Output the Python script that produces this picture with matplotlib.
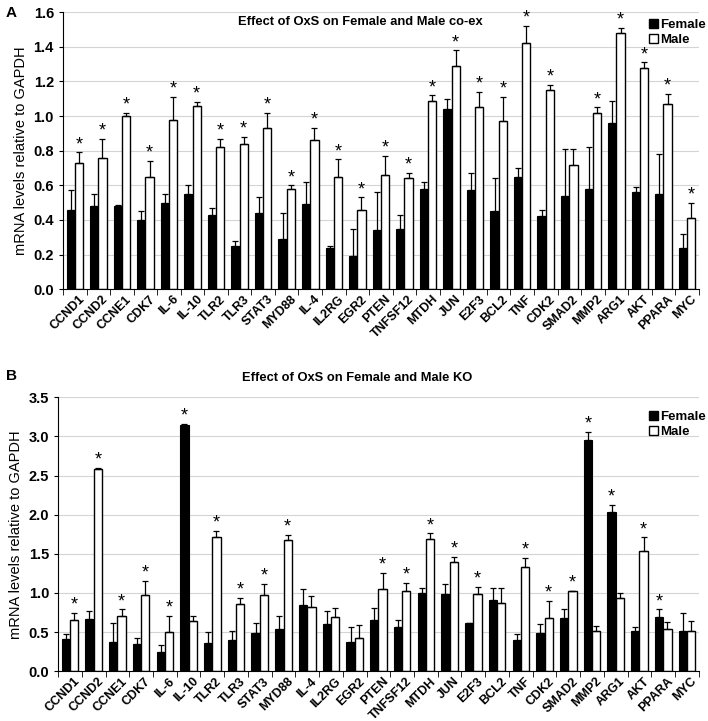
import numpy as np
import matplotlib
matplotlib.use("Agg")
import matplotlib.pyplot as plt
from matplotlib.patches import Patch

plt.rcParams['font.family'] = ['Liberation Sans', 'DejaVu Sans']

genes = ["CCND1", "CCND2", "CCNE1", "CDK7", "IL-6", "IL-10", "TLR2", "TLR3",
         "STAT3", "MYD88", "IL-4", "IL2RG", "EGR2", "PTEN", "TNFSF12", "MTDH",
         "JUN", "E2F3", "BCL2", "TNF", "CDK2", "SMAD2", "MMP2", "ARG1", "AKT",
         "PPARA", "MYC"]

# panel A: co-ex
a_female = [0.46, 0.48, 0.48, 0.40, 0.50, 0.55, 0.43, 0.25, 0.44, 0.29, 0.49, 0.24, 0.19,
            0.34, 0.35, 0.58, 1.04, 0.57, 0.45, 0.65, 0.42, 0.54, 0.58, 0.96, 0.56, 0.55, 0.24]
a_female_err = [0.11, 0.07, 0.005, 0.05, 0.05, 0.05, 0.04, 0.03, 0.09, 0.15, 0.13, 0.01, 0.16,
                0.22, 0.08, 0.04, 0.06, 0.10, 0.19, 0.05, 0.04, 0.27, 0.24, 0.13, 0.03, 0.23, 0.08]
a_male = [0.73, 0.76, 1.00, 0.65, 0.98, 1.06, 0.82, 0.84, 0.93, 0.58, 0.86, 0.65, 0.46,
          0.66, 0.64, 1.09, 1.29, 1.05, 0.97, 1.42, 1.15, 0.72, 1.02, 1.48, 1.28, 1.07, 0.41]
a_male_err = [0.06, 0.11, 0.02, 0.09, 0.13, 0.02, 0.05, 0.04, 0.09, 0.02, 0.07, 0.10, 0.07,
              0.11, 0.03, 0.03, 0.09, 0.09, 0.14, 0.10, 0.03, 0.09, 0.03, 0.03, 0.03, 0.06, 0.09]
a_star_female = []
a_star_male = [g for g in genes if g != "SMAD2"]

# panel B: KO
b_female = [0.41, 0.67, 0.37, 0.35, 0.24, 3.14, 0.36, 0.40, 0.49, 0.54, 0.84, 0.60, 0.37,
            0.65, 0.57, 1.00, 0.99, 0.62, 0.91, 0.40, 0.49, 0.68, 2.96, 2.04, 0.51, 0.69, 0.52]
b_female_err = [0.06, 0.10, 0.25, 0.07, 0.10, 0.02, 0.14, 0.11, 0.13, 0.17, 0.21, 0.17, 0.20,
                0.16, 0.09, 0.06, 0.13, 0.0, 0.15, 0.08, 0.11, 0.12, 0.10, 0.09, 0.05, 0.10, 0.22]
b_male = [0.65, 2.58, 0.70, 0.98, 0.50, 0.64, 1.72, 0.86, 0.98, 1.68, 0.82, 0.69, 0.43,
          1.05, 1.03, 1.69, 1.39, 0.99, 0.87, 1.33, 0.68, 1.02, 0.52, 0.94, 1.53, 0.54, 0.52]
b_male_err = [0.10, 0.02, 0.09, 0.17, 0.21, 0.07, 0.07, 0.08, 0.14, 0.06, 0.14, 0.12, 0.16,
              0.21, 0.10, 0.07, 0.07, 0.09, 0.19, 0.12, 0.22, 0.01, 0.06, 0.06, 0.18, 0.09, 0.12]
b_star_female = ["IL-10", "MMP2", "ARG1", "PPARA"]
b_star_male = ["CCND1", "CCND2", "CCNE1", "CDK7", "IL-6", "TLR2", "TLR3", "STAT3", "MYD88",
               "PTEN", "TNFSF12", "MTDH", "JUN", "E2F3", "TNF", "CDK2", "SMAD2", "AKT"]


def panel(ax, fem, fem_err, mal, mal_err, star_f, star_m, ymax, ystep, title, title_x, title_y, leg_y, star_off):
    x = np.arange(len(genes))
    w = 0.35
    ax.set_axisbelow(True)
    ax.yaxis.grid(True, color='#d4d4d4', lw=0.8)
    ekw = dict(ecolor='black', elinewidth=0.9, capsize=2, capthick=0.9)
    ax.bar(x - w / 2, fem, w, color='black', edgecolor='black', lw=0.8,
           yerr=[np.zeros(len(fem)), fem_err], error_kw=ekw)
    ax.bar(x + w / 2, mal, w, color='white', edgecolor='black', lw=1.0,
           yerr=[np.zeros(len(mal)), mal_err], error_kw=ekw)
    for i, g in enumerate(genes):
        if g in star_f:
            ax.text(x[i] - w / 2, fem[i] + fem_err[i] + star_off, '*', ha='center', va='center', fontsize=13)
        if g in star_m:
            ax.text(x[i] + w / 2, mal[i] + mal_err[i] + star_off, '*', ha='center', va='center', fontsize=13)
    ax.set_xlim(-0.5, len(genes) - 0.5)
    ax.set_ylim(0, ymax)
    yt = np.arange(0, ymax + 1e-6, ystep)
    ax.set_yticks(yt)
    ax.set_yticklabels(['%.1f' % v for v in yt], fontsize=10.5, fontweight='bold')
    ax.set_xticks(x + 0.15)
    ax.set_xticklabels(genes, rotation=45, ha='right', rotation_mode='anchor', fontsize=9,
                       fontweight='bold')
    ax.tick_params(axis='x', which='major', length=0, pad=3)
    ax.set_xticks(np.arange(-0.5, len(genes)), minor=True)
    ax.tick_params(axis='x', which='minor', length=4, direction='out')
    ax.tick_params(axis='y', length=3, direction='out')
    for s in ['top', 'right']:
        ax.spines[s].set_visible(False)
    ax.set_ylabel('mRNA levels relative to GAPDH', fontsize=10.5, labelpad=4)
    ax.text(title_x, title_y, title, transform=ax.transAxes, ha='center', va='center',
            fontsize=9.3, fontweight='bold')
    handles = [Patch(facecolor='black', edgecolor='black', label='Female'),
               Patch(facecolor='white', edgecolor='black', label='Male')]
    ax.legend(handles=handles, loc='upper right', bbox_to_anchor=(1.02, leg_y), frameon=False,
              prop={'weight': 'bold', 'size': 9.5}, handlelength=0.7, handleheight=0.7,
              handletextpad=0.2, labelspacing=0.2, borderaxespad=0)


fig = plt.figure(figsize=(7.08, 7.21), dpi=100)
axA = fig.add_axes([0.089, 0.599, 0.898, 0.384])
axB = fig.add_axes([0.082, 0.069, 0.905, 0.380])

panel(axA, a_female, a_female_err, a_male, a_male_err, a_star_female, a_star_male,
      1.6, 0.2, 'Effect of OxS on Female and Male co-ex', 0.467, 0.965, 0.995, 0.045)
panel(axB, b_female, b_female_err, b_male, b_male_err, b_star_female, b_star_male,
      3.5, 0.5, 'Effect of OxS on Female and Male KO', 0.466, 1.07, 0.97, 0.1)

fig.text(0.008, 0.982, 'A', fontsize=11, fontweight='bold', va='center')
fig.text(0.008, 0.478, 'B', fontsize=11, fontweight='bold', va='center')

fig.savefig('out.png', dpi=100)
